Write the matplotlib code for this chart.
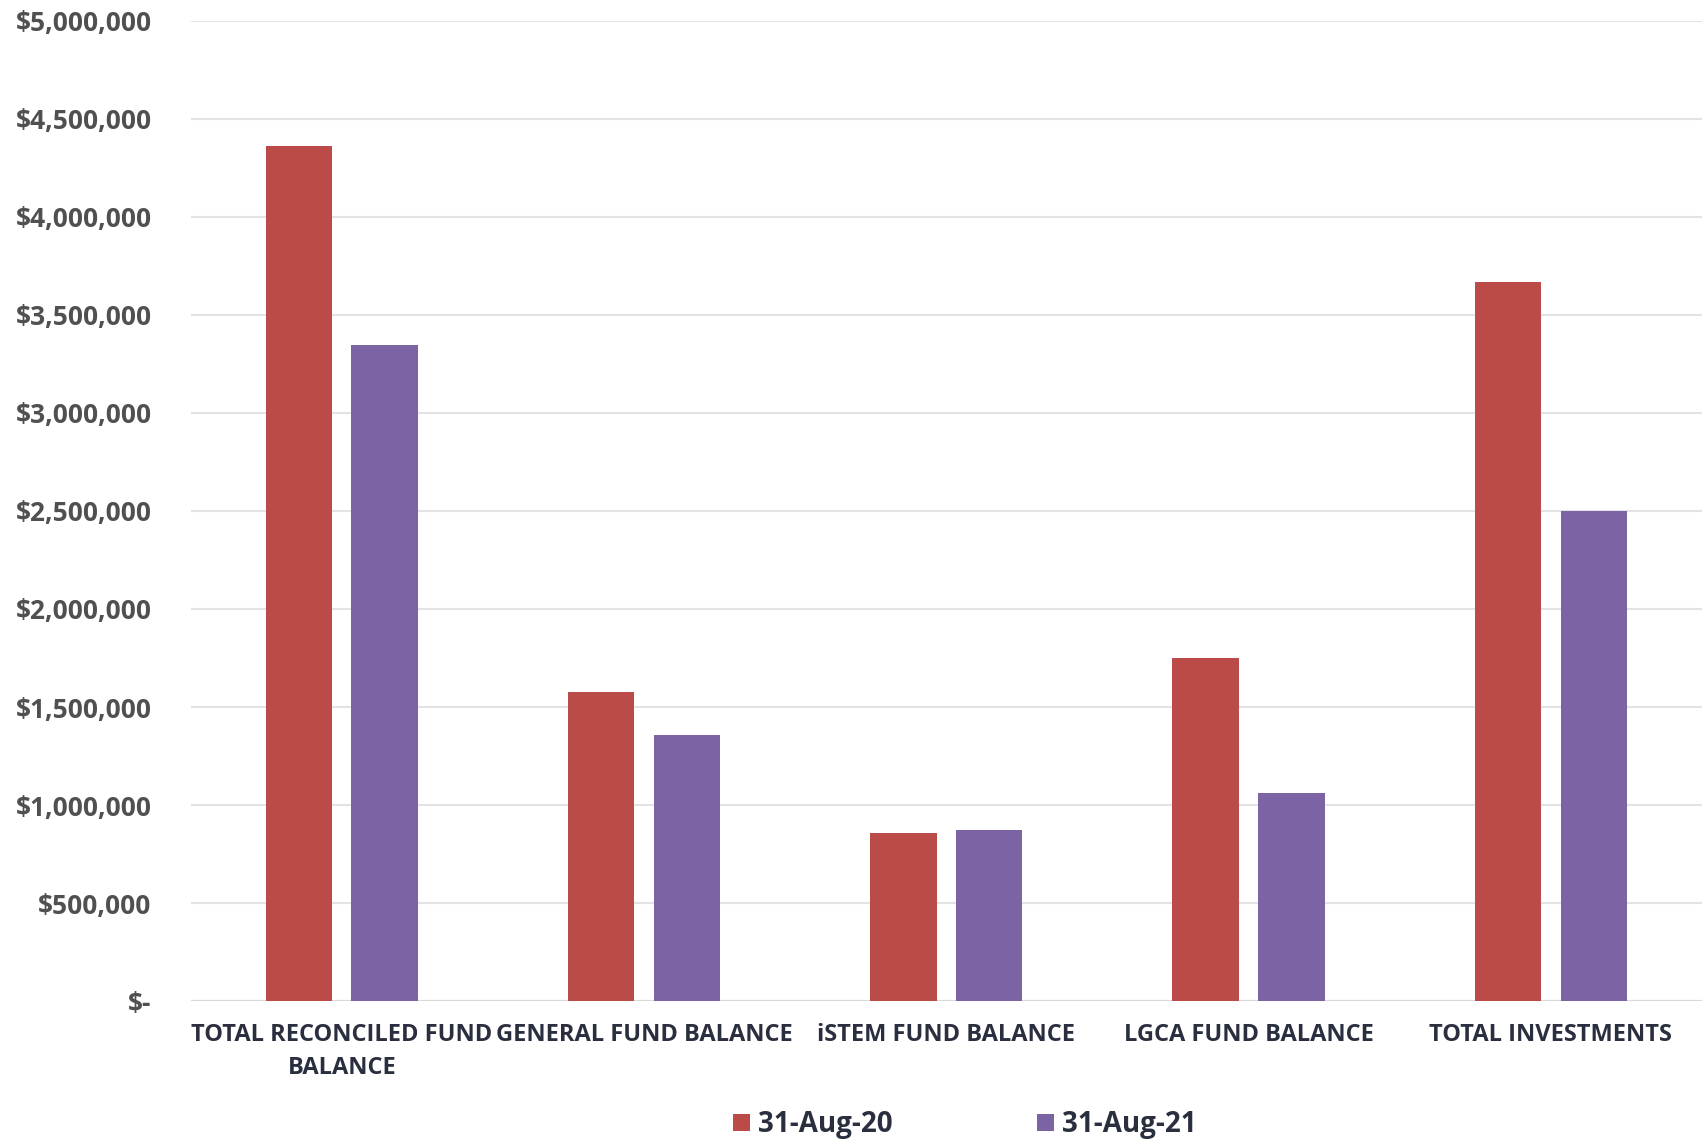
import matplotlib
matplotlib.use("Agg")
import matplotlib.pyplot as plt
import numpy as np
from matplotlib.ticker import FuncFormatter

categories = ["TOTAL RECONCILED FUND\nBALANCE", "GENERAL FUND BALANCE",
              "iSTEM FUND BALANCE", "LGCA FUND BALANCE", "TOTAL INVESTMENTS"]
aug20 = [4360000, 1578000, 856000, 1752000, 3665000]
aug21 = [3345000, 1355000, 875000, 1063000, 2500000]
series_labels = ["31-Aug-20", "31-Aug-21"]
yticks = [0, 500000, 1000000, 1500000, 2000000, 2500000, 3000000, 3500000, 4000000, 4500000, 5000000]

red = "#BA4B49"
purple = "#7B63A4"

plt.rcParams['font.family'] = ['Open Sans', 'DejaVu Sans']
fig = plt.figure(figsize=(17.02, 11.43), dpi=100)
ax = fig.add_axes([0.112, 0.124, 0.888, 0.858])

x = np.arange(len(categories))
w = 0.22
gap = 0.064
ax.bar(x - (w + gap) / 2, aug20, width=w, color=red, label=series_labels[0], zorder=3)
ax.bar(x + (w + gap) / 2, aug21, width=w, color=purple, label=series_labels[1], zorder=3)

ax.set_ylim(0, 5000000)
ax.set_xlim(-0.5, len(categories) - 0.5)
ax.set_yticks(yticks)

def fmt(v, pos):
    if v == 0:
        return "$-"
    return "${:,.0f}".format(v)

ax.yaxis.set_major_formatter(FuncFormatter(fmt))
ax.grid(axis='y', color='#E3E3E3', linewidth=1.5, zorder=0)
for s in ax.spines.values():
    s.set_visible(False)
ax.axhline(0, color='#D9D9D9', linewidth=1.5, zorder=2)
ax.tick_params(axis='both', length=0)
ax.tick_params(axis='y', labelsize=19, labelcolor='#505050', pad=28)
ax.set_xticks(x)
ax.set_xticklabels(categories, fontsize=17, color='#2A2F3F', fontweight='bold',
                   linespacing=1.45)
ax.tick_params(axis='x', pad=16)
for lab in ax.get_yticklabels():
    lab.set_fontweight('bold')

leg = fig.legend(loc='center', bbox_to_anchor=(0.567, 0.016), ncol=2, frameon=False,
                 prop={'size': 20, 'weight': 'bold'}, handlelength=0.6, handleheight=0.6,
                 handletextpad=0.3, columnspacing=5.2)
for t in leg.get_texts():
    t.set_color('#2A2F3F')

fig.savefig("out.png", dpi=100, facecolor='white')
